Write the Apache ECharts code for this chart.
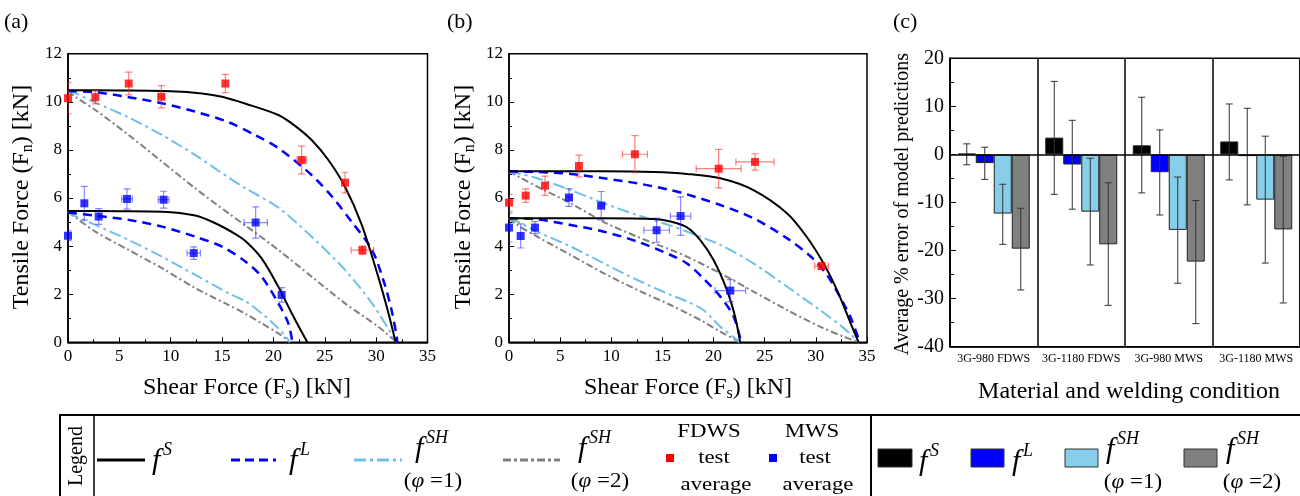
<!DOCTYPE html>
<html><head><meta charset="utf-8">
<script src="https://cdn.jsdelivr.net/npm/echarts@6/dist/echarts.min.js"></script>
<style>html,body{margin:0;padding:0;background:#fff}#c{width:1300px;height:496px}</style>
</head><body><div id="c"></div>
<script>
// ---------- DATA ----------
// test averages: [Fs, Fn, Fs error, Fn error]
const aFdws = [[0.0,10.15,0,0.65],[2.66,10.19,0.15,0.28],[5.91,10.76,0.15,0.47],[9.09,10.21,0.3,0.46],[15.32,10.76,0.2,0.38],[22.75,7.58,0.45,0.58],[26.97,6.64,0.2,0.43],[28.66,3.83,1.1,0.17]];
const aMws  = [[0.0,4.43,0,0.2],[1.59,5.78,0.1,0.7],[2.99,5.23,0.15,0.33],[5.74,5.96,0.52,0.42],[9.31,5.93,0.52,0.35],[12.24,3.71,0.65,0.26],[18.27,4.98,1.14,0.65],[20.8,1.97,0.15,0.3]];
const bFdws = [[0.0,5.81,0,0.35],[1.63,6.1,0.2,0.28],[3.52,6.51,0.15,0.4],[6.84,7.33,0.2,0.45],[12.31,7.82,1.22,0.77],[20.5,7.22,2.2,0.8],[24.05,7.5,1.87,0.34],[30.56,3.17,0.67,0.13]];
const bMws  = [[0.0,4.77,0,0.6],[1.14,4.42,0.1,0.5],[2.54,4.77,0.1,0.25],[5.86,6.02,0.3,0.37],[9.02,5.68,0.3,0.59],[14.43,4.66,1.25,0.5],[16.78,5.25,1.0,0.8],[21.63,2.15,1.5,0.46]];

// model curves (a)
const aFdwsS   = [[0,10.48],[5,10.47],[10,10.44],[13.05,10.35],[15,10.21],[17.3,9.92],[20.48,9.45],[22.1,9.0],[23.72,8.41],[25.35,7.58],[26.97,6.47],[28.6,4.88],[30.2,2.73],[31.2,1.21],[31.9,0]];
const aFdwsL   = [[0,10.45],[2.66,10.4],[5.9,10.19],[9.15,9.94],[12.4,9.59],[15.64,9.15],[18.2,8.62],[20.5,8.07],[23.7,6.96],[25.7,6.06],[27.6,5.02],[29.6,3.84],[30.8,2.45],[31.5,1.34],[32.0,0.24],[32.05,0]];
const aFdwsSH1 = [[0,10.45],[0.7,10.36],[2.66,9.97],[5.9,9.35],[9.15,8.62],[12.4,7.78],[15.64,6.85],[17.3,6.4],[20.48,5.6],[23.72,4.39],[26.97,3.01],[29.6,1.62],[31.2,0.55],[32.0,0]];
const aFdwsSH2 = [[0,10.45],[0.7,10.21],[2.66,9.66],[5.9,8.62],[9.15,7.51],[12.4,6.4],[15.64,5.36],[17.3,4.85],[20.48,3.84],[23.72,2.73],[26.97,1.62],[30.2,0.65],[32.0,0]];
const aMwsS    = [[0,5.46],[5,5.45],[9.15,5.43],[12.4,5.27],[14.35,4.95],[16.3,4.5],[17.3,4.2],[18.85,3.49],[20.48,2.31],[21.78,1.21],[23.3,0]];
const aMwsL    = [[0,5.4],[2.66,5.27],[5.9,5.09],[9.15,4.81],[12.4,4.39],[15.0,3.98],[17.3,3.35],[18.85,2.73],[20.48,1.62],[21.45,0.79],[21.85,0]];
const aMwsSH1  = [[0,5.42],[0.7,5.25],[2.66,4.88],[5.9,4.26],[9.15,3.56],[12.4,2.8],[15.64,2.04],[17.3,1.7],[18.85,1.21],[20.48,0.58],[21.45,0.1],[21.6,0]];
const aMwsSH2  = [[0,5.42],[0.7,5.2],[2.66,4.6],[5.9,3.84],[9.15,3.08],[12.4,2.25],[15.64,1.55],[17.3,1.18],[18.85,0.79],[20.48,0.37],[21.45,0.07],[21.6,0]];

// model curves (b)
const bFdwsS   = [[0,7.11],[9.28,7.11],[14.17,7.08],[17.4,7.0],[20.66,6.82],[23.9,6.33],[27.2,5.36],[29.1,4.39],[30.76,3.28],[32.06,2.18],[33.4,0.79],[34.18,0]];
const bFdwsL   = [[0,7.11],[2.77,7.08],[6.03,7.0],[9.28,6.82],[12.54,6.61],[15.8,6.33],[17.4,6.15],[20.66,5.71],[23.9,5.16],[27.2,4.32],[29.7,3.49],[31.2,2.73],[32.7,1.62],[33.5,0.93],[34.3,0]];
const bFdwsSH1 = [[0,7.11],[0.81,7.03],[2.77,6.82],[6.03,6.33],[9.28,5.78],[12.54,5.29],[15.8,4.85],[17.4,4.6],[20.66,4.05],[23.9,3.28],[27.2,2.31],[30.4,1.34],[32.7,0.6],[34.2,0]];
const bFdwsSH2 = [[0,7.11],[0.81,6.92],[2.77,6.47],[6.03,5.78],[9.28,5.0],[12.54,4.39],[15.8,3.85],[17.4,3.56],[20.66,2.87],[23.9,2.11],[27.2,1.34],[30.4,0.65],[32.7,0.24],[34.2,0]];
const bMwsS    = [[0,5.16],[9.28,5.16],[14.17,5.13],[15.8,5.02],[17.4,4.78],[18.7,4.25],[20.0,3.42],[21.3,2.18],[22.1,1.07],[22.6,0]];
const bMwsL    = [[0,5.16],[2.77,5.11],[6.03,4.88],[9.28,4.6],[12.54,4.19],[15.8,3.63],[17.4,3.28],[19.0,2.66],[20.66,1.9],[21.96,1.07],[22.7,0]];
const bMwsSH1  = [[0,5.16],[0.81,5.02],[2.77,4.6],[6.03,3.98],[9.28,3.28],[12.54,2.59],[15.8,1.97],[17.4,1.7],[19.0,1.34],[20.66,0.65],[22.3,0.1],[22.5,0]];
const bMwsSH2  = [[0,5.16],[0.81,4.88],[2.77,4.39],[6.03,3.63],[9.28,2.87],[12.54,2.18],[15.8,1.55],[17.4,1.21],[19.0,0.86],[20.66,0.44],[22.3,0.07],[22.5,0]];

// (c) average % error
const categories = ['3G-980 FDWS','3G-1180 FDWS','3G-980 MWS','3G-1180 MWS'];
const errS   = [0.15, 3.5, 1.9, 2.7];
const errL   = [-1.8, -2.1, -3.7, -0.35];
const errSH1 = [-12.3, -11.9, -15.7, -9.4];
const errSH2 = [-19.6, -18.7, -22.3, -15.6];
// error bar ranges [low, high]
const rngS   = [[-2.15,2.2],[-8.3,15.2],[-8.0,11.9],[-5.3,10.5]];
const rngL   = [[-5.2,1.5],[-11.4,7.1],[-12.6,5.1],[-10.5,9.6]];
const rngSH1 = [[-18.7,-6.2],[-23.0,-0.8],[-26.8,-4.7],[-22.6,3.8]];
const rngSH2 = [[-28.2,-11.2],[-31.4,-5.9],[-35.2,-9.6],[-30.9,-0.4]];

const xTicksAB = [0, 35, 5];   // min, max, interval
const yTicksAB = [0, 12, 2];
const yTicksC  = [-40, 20, 10];

// ---------- STYLE ----------
const FF = '"Liberation Serif", "Times New Roman", serif';
const C_S = '#000000', C_L = '#0000ff', C_SH1 = '#6fbfe9', C_SH2 = '#808080';
const C_SH1BAR = '#87ceeb';

const chart = echarts.init(document.getElementById('c'), null, {renderer:'canvas'});

function xyAxes(i) {
  const common = {
    gridIndex: i, type: 'value',
    axisLine: {show: true, onZero: false, lineStyle: {color: '#000', width: 1.5}},
    axisTick: {show: true, inside: true, length: 5, lineStyle: {color: '#000', width: 1}},
    minorTick: {show: true, splitNumber: 2, length: 3, lineStyle: {color: '#000', width: 1}},
    splitLine: {show: false},
    axisLabel: {color: '#000', fontFamily: FF, fontSize: 17, margin: 6}
  };
  return [
    Object.assign({}, common, {min: xTicksAB[0], max: xTicksAB[1], interval: xTicksAB[2]}),
    Object.assign({}, common, {min: yTicksAB[0], max: yTicksAB[1], interval: yTicksAB[2]})
  ];
}
const [xa, ya] = xyAxes(0);
const [xb, yb] = xyAxes(1);

function curve(data, g, c, w, type) {
  return {type: 'line', xAxisIndex: g, yAxisIndex: g, data: data, symbol: 'none', showSymbol: false,
    smooth: 0.3, silent: true, z: 2, clip: true,
    lineStyle: {color: c, width: w, type: type, cap: 'butt'}};
}
function points(data, g, c) {
  return {type: 'scatter', xAxisIndex: g, yAxisIndex: g, data: data.map(d => [d[0], d[1]]),
    symbol: 'rect', symbolSize: 8, itemStyle: {color: c}, z: 5, silent: true, clip: false};
}
function errXY(data, g, c) {
  return {type: 'custom', xAxisIndex: g, yAxisIndex: g, data: data, z: 4, silent: true, clip: true,
    encode: {x: 0, y: 1},
    renderItem: function (p, api) {
      const x = api.value(0), y = api.value(1), ex = api.value(2), ey = api.value(3);
      const t = api.coord([x, y + ey]), b = api.coord([x, y - ey]);
      const l = api.coord([x - ex, y]), r = api.coord([x + ex, y]);
      const st = {stroke: c, lineWidth: 1.2, fill: null};
      const cap = 3.5, ch = [];
      const ln = (x1, y1, x2, y2) => ch.push({type: 'line', shape: {x1, y1, x2, y2}, style: st});
      ln(t[0], t[1], b[0], b[1]); ln(t[0]-cap, t[1], t[0]+cap, t[1]); ln(b[0]-cap, b[1], b[0]+cap, b[1]);
      if (r[0] - l[0] > 6) { ln(l[0], l[1], r[0], r[1]); ln(l[0], l[1]-cap, l[0], l[1]+cap); ln(r[0], r[1]-cap, r[0], r[1]+cap); }
      return {type: 'group', children: ch};
    }};
}
function barErr(rng, k, c) {
  return {type: 'custom', xAxisIndex: 2, yAxisIndex: 2, z: 6, silent: true,
    data: rng.map((r, i) => [i, r[0], r[1]]),
    encode: {x: 0, y: [1, 2]},
    renderItem: function (p, api) {
      const i = api.value(0);
      const lo = api.coord([i, api.value(1)]), hi = api.coord([i, api.value(2)]);
      const x = lo[0] + (k - 1.5) * 18;
      const st = {stroke: c, lineWidth: 1, fill: null}, cap = 3.5;
      return {type: 'group', children: [
        {type: 'line', shape: {x1: x, y1: lo[1], x2: x, y2: hi[1]}, style: st},
        {type: 'line', shape: {x1: x - cap, y1: lo[1], x2: x + cap, y2: lo[1]}, style: st},
        {type: 'line', shape: {x1: x - cap, y1: hi[1], x2: x + cap, y2: hi[1]}, style: st}
      ]};
    }};
}
function bars(vals, c) {
  return {type: 'bar', xAxisIndex: 2, yAxisIndex: 2, data: vals, barWidth: 18, barGap: '0%',
    itemStyle: {color: c, borderColor: '#222', borderWidth: 1}, silent: true, z: 3};
}

const RED = 'rgba(255,40,40,0.6)', BLUE = 'rgba(40,40,255,0.55)';
const dashL = [9, 6], dashSH1 = [12, 4, 3, 4], dashSH2 = [7, 3, 2, 3];

const series = [];
[[0, [aFdwsS, aFdwsL, aFdwsSH1, aFdwsSH2], [aMwsS, aMwsL, aMwsSH1, aMwsSH2], aFdws, aMws],
 [1, [bFdwsS, bFdwsL, bFdwsSH1, bFdwsSH2], [bMwsS, bMwsL, bMwsSH1, bMwsSH2], bFdws, bMws]].forEach(([g, top, bot, pf, pm]) => {
  [top, bot].forEach(set => {
    series.push(curve(set[3], g, C_SH2, 2, dashSH2));
    series.push(curve(set[2], g, C_SH1, 2, dashSH1));
    series.push(curve(set[1], g, C_L, 2.5, dashL));
    series.push(curve(set[0], g, C_S, 2, 'solid'));
  });
  series.push(errXY(pf, g, RED)); series.push(errXY(pm, g, BLUE));
  series.push(points(pf, g, '#ff0000')); series.push(points(pm, g, '#0000ff'));
});
const bS = bars(errS, C_S);
bS.markLine = {silent: true, symbol: 'none', data: [{yAxis: 0}], label: {show: false},
  lineStyle: {color: '#000', type: 'solid', width: 1.5}, z: 7};
series.push(bS, bars(errL, C_L), bars(errSH1, C_SH1BAR), bars(errSH2, C_SH2));
series.push(barErr(rngS, 0, '#333'), barErr(rngL, 1, '#333'), barErr(rngSH1, 2, '#333'), barErr(rngSH2, 3, '#333'));

// ---------- GRAPHIC TEXT / LEGEND ----------
const G = [];
function T(x, y, text, size, o) {
  o = o || {};
  const st = {text: text, font: (o.italic ? 'italic ' : '') + size + 'px ' + FF, fill: '#000',
    align: o.align || 'center', verticalAlign: o.va || 'middle'};
  if (o.rich) st.rich = o.rich;
  G.push({type: 'text', x: x, y: y, rotation: o.rot || 0, scaleX: o.sx || 1, style: st, silent: true, z: 100});
}
function L(x1, y1, x2, y2, c, w, dash) {
  G.push({type: 'line', shape: {x1, y1, x2, y2}, style: {stroke: c, lineWidth: w, lineDash: dash || null}, silent: true, z: 100});
}
function R(x, y, w, h, c) {
  G.push({type: 'rect', shape: {x, y, width: w, height: h}, style: {fill: c, stroke: '#333', lineWidth: 1}, silent: true, z: 100});
}
const richBase = (s) => ({n: {fontFamily: FF, fontSize: s, fill: '#000'}, sub: {fontFamily: FF, fontSize: Math.round(s * 0.68), padding: [Math.round(s * 0.5), 0, 0, 0]}, i: {fontFamily: FF, fontSize: s, fontStyle: 'italic'}});

// panel labels
T(4, 22, '(a)', 22, {align: 'left'});
T(447, 22, '(b)', 22, {align: 'left'});
T(893, 22, '(c)', 22, {align: 'left'});

// axis titles
const r24 = richBase(24);
T(22, 197, '{n|Tensile Force (F}{sub|n}{n|) [kN]}', 24, {rot: Math.PI / 2, rich: r24});
T(464, 197, '{n|Tensile Force (F}{sub|n}{n|) [kN]}', 24, {rot: Math.PI / 2, rich: r24});
T(247, 388, '{n|Shear Force (F}{sub|s}{n|) [kN]}', 24, {rich: r24});
T(688, 388, '{n|Shear Force (F}{sub|s}{n|) [kN]}', 24, {rich: r24});
T(903, 204, 'Average % error of model predictions', 20, {rot: Math.PI / 2});
T(1129, 392, 'Material and welding condition', 24);

// legend frames
L(59, 415, 1300, 415, '#000', 2);
L(60, 415, 60, 496, '#000', 2);
L(94, 415, 94, 496, '#000', 1.5);
L(871, 415, 871, 496, '#000', 2);
T(77, 456, 'Legend', 20, {rot: Math.PI / 2});

function fsym(x, y, sup, phi, phiX) {
  T(x, y, 'f', 30, {italic: true, align: 'left'});
  T(x + 11, y - 11, sup, 18, {italic: true, align: 'left'});
  if (phi) T(phiX, y + 33, '{n|(}{i|φ}{n| =' + phi + ')}', 20, {rich: richBase(20), sx: 1.15});
}
// left legend (model lines)
L(97, 460, 145, 460, C_S, 3);
fsym(152, 461, 'S');
L(231, 460, 276, 460, C_L, 3, [9, 5]);
fsym(289, 461, 'L');
L(354, 460, 402, 460, C_SH1, 3, [12, 4, 3, 4]);
fsym(415, 449, 'SH', '1', 433);
L(503, 460, 560, 460, C_SH2, 3, [8, 3, 3, 3]);
fsym(578, 449, 'SH', '2', 600);
T(709, 432, 'FDWS', 19, {sx: 1.2});
G.push({type: 'rect', shape: {x: 666, y: 454, width: 8, height: 8}, style: {fill: '#ff0000'}, silent: true, z: 100});
T(714, 458, 'test', 19, {sx: 1.2});
T(716, 485, 'average', 19, {sx: 1.2});
T(812, 432, 'MWS', 19, {sx: 1.2});
G.push({type: 'rect', shape: {x: 769, y: 454, width: 8, height: 8}, style: {fill: '#0000ff'}, silent: true, z: 100});
T(815, 458, 'test', 19, {sx: 1.2});
T(818, 485, 'average', 19, {sx: 1.2});

// right legend (bars)
R(878, 449, 34, 18, C_S);  fsym(919, 462, 'S');
R(971, 449, 33, 18, C_L);  fsym(1012, 462, 'L');
R(1065, 449, 33, 18, C_SH1BAR); fsym(1106, 450, 'SH', '1', 1133);
R(1184, 449, 33, 18, C_SH2);    fsym(1226, 450, 'SH', '2', 1252);

const option = {
  animation: false,
  backgroundColor: '#fff',
  grid: [
    {left: 68, top: 53.7, width: 359.5, height: 288.6, show: true, borderColor: '#000', borderWidth: 1.5, backgroundColor: 'transparent'},
    {left: 509, top: 53.7, width: 358, height: 288.6, show: true, borderColor: '#000', borderWidth: 1.5, backgroundColor: 'transparent'},
    {left: 950, top: 58.3, width: 358, height: 288.4, show: true, borderColor: '#000', borderWidth: 1.5, backgroundColor: 'transparent'}
  ],
  xAxis: [xa, xb, {
    gridIndex: 2, type: 'category', data: categories, boundaryGap: true,
    axisLine: {show: true, onZero: false, lineStyle: {color: '#000', width: 1.5}},
    axisTick: {show: false},
    splitLine: {show: true, interval: 0, lineStyle: {color: '#000', width: 1.5}},
    axisLabel: {color: '#000', fontFamily: FF, fontSize: 12, margin: 6, interval: 0}
  }],
  yAxis: [ya, yb, {
    gridIndex: 2, type: 'value', min: yTicksC[0], max: yTicksC[1], interval: yTicksC[2],
    axisLine: {show: true, onZero: false, lineStyle: {color: '#000', width: 1.5}},
    axisTick: {show: true, inside: true, length: 6, lineStyle: {color: '#000', width: 1}},
    minorTick: {show: true, splitNumber: 2, length: 4, lineStyle: {color: '#000', width: 1}},
    splitLine: {show: false},
    axisLabel: {color: '#000', fontFamily: FF, fontSize: 20, margin: 6}
  }],
  series: series,
  graphic: G
};
chart.setOption(option);
</script></body></html>
